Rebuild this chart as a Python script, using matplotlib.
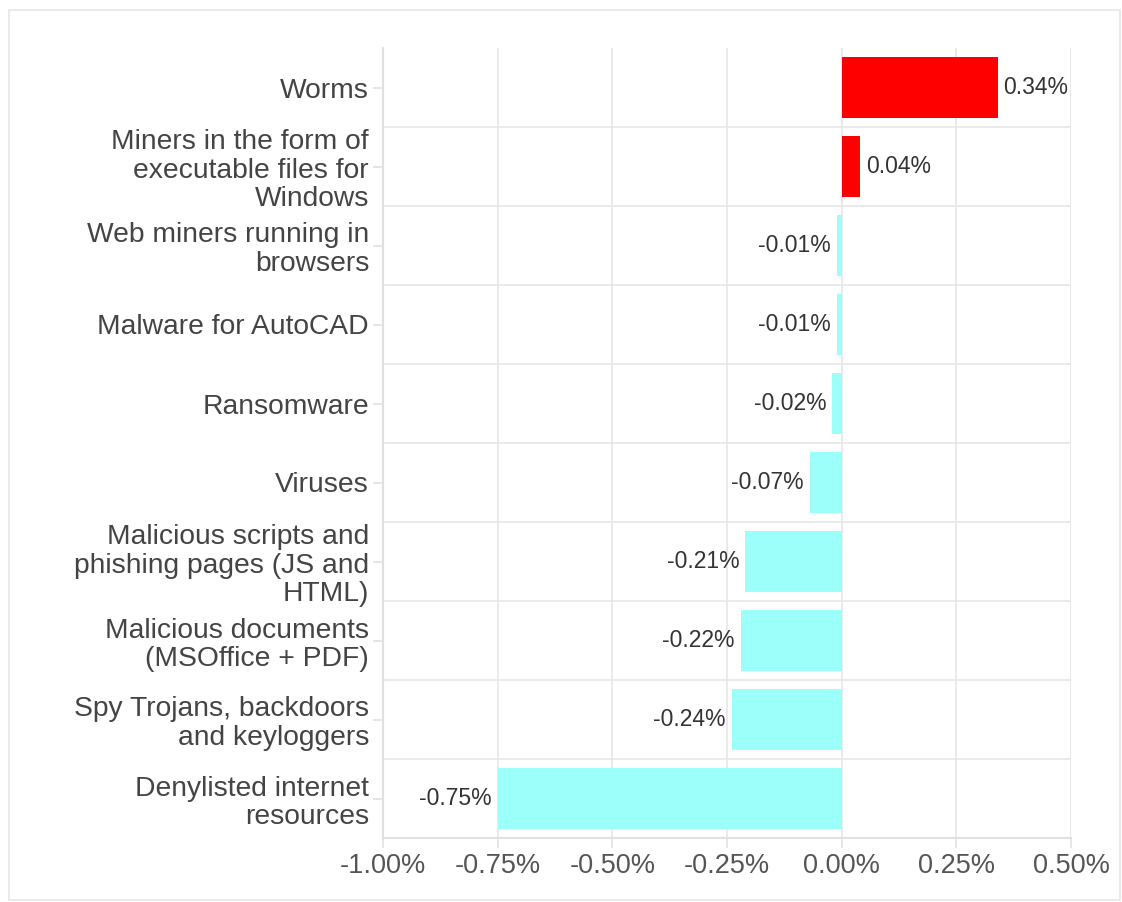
import numpy as np
import matplotlib.pyplot as plt
from matplotlib.patches import Rectangle

categories = [
    "Worms",
    "Miners in the form of\nexecutable files for\nWindows",
    "Web miners running in\nbrowsers",
    "Malware for AutoCAD",
    "Ransomware",
    "Viruses",
    "Malicious scripts and\nphishing pages (JS and\nHTML)",
    "Malicious documents\n(MSOffice + PDF)",
    "Spy Trojans, backdoors\nand keyloggers",
    "Denylisted internet\nresources",
]
values = [0.34, 0.04, -0.01, -0.01, -0.02, -0.07, -0.21, -0.22, -0.24, -0.75]
xticks = [-1.0, -0.75, -0.5, -0.25, 0.0, 0.25, 0.5]

plt.rcParams['font.family'] = ['Liberation Sans', 'DejaVu Sans']

fig = plt.figure(figsize=(11.22, 9.02), dpi=100)
fig.patch.set_facecolor('white')
# light frame around the chart
fig.patches.append(Rectangle((9 / 1122, 2 / 902), 1111 / 1122, 890 / 902,
                             transform=fig.transFigure, fill=False,
                             edgecolor='#e6e6e6', lw=1.2))

ax = fig.add_axes([383 / 1122, 64 / 902, 688 / 1122, 790 / 902])

n = len(categories)
ypos = np.arange(n)
colors = ['#ff0000' if v > 0 else '#9cfffa' for v in values]
ax.barh(ypos, values, height=0.76, color=colors, zorder=3)

for y, v in zip(ypos, values):
    if v > 0:
        ax.text(v + 0.013, y, f"{v:.2f}%", va='center', ha='left',
                fontsize=16.5, color='#333333', zorder=4)
    else:
        ax.text(v - 0.013, y, f"{v:.2f}%", va='center', ha='right',
                fontsize=16.5, color='#333333', zorder=4)

ax.set_xlim(-1.0, 0.5)
ax.set_ylim(n - 0.5, -0.5)
ax.set_xticks(xticks)
ax.set_xticklabels([f"{t:.2f}%" for t in xticks], fontsize=19.5, color='#555555')
ax.set_yticks(ypos)
ax.set_yticklabels(categories, fontsize=20.3, color='#444444', linespacing=1.13)

# gridlines: vertical at ticks, horizontal at category boundaries
for t in xticks:
    ax.axvline(t, color='#e6e6e6', lw=1.2, zorder=1)
for b in np.arange(n - 1) + 0.5:
    ax.axhline(b, color='#e6e6e6', lw=1.2, zorder=1)

for key in ['right', 'top']:
    ax.spines[key].set_visible(False)
for key in ['left', 'bottom']:
    ax.spines[key].set_color('#e0e0e0')
    ax.spines[key].set_linewidth(1.5)

ax.tick_params(axis='y', length=7, width=1.2, color='#e0e0e0', pad=3)
ax.tick_params(axis='x', length=7, width=1.2, color='#e0e0e0', pad=4)

plt.savefig('out.png', dpi=100)
